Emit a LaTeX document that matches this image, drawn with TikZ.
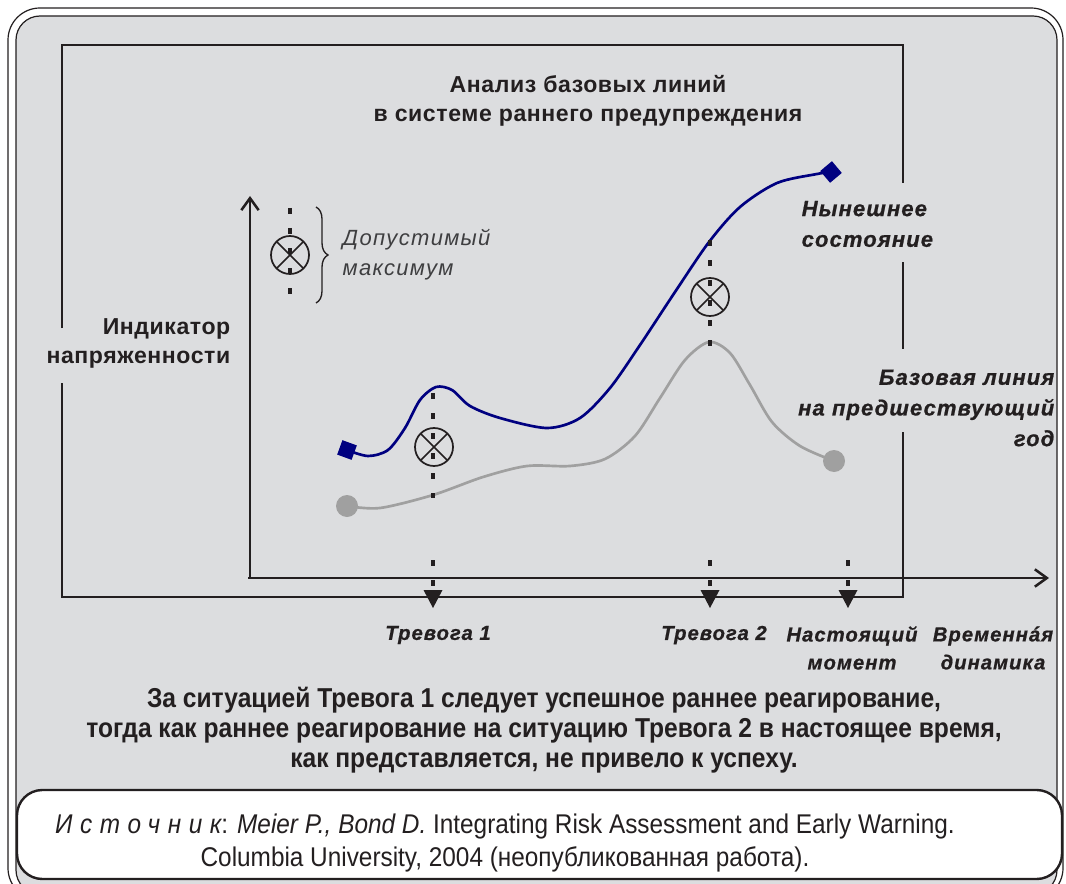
\documentclass[tikz,border=0pt]{standalone}
\usepackage{fontspec}
\setmainfont{Liberation Sans}
\newfontfamily\spacedsans[LetterSpace=6]{Liberation Sans}
\newfontfamily\heavysans[LetterSpace=5,FakeBold=0.7]{Liberation Sans}
\newfontfamily\titlesans[LetterSpace=2.5]{Liberation Sans}
\newfontfamily\narrowsans[FakeStretch=0.9]{Liberation Sans}
\newfontfamily\widesans[FakeStretch=0.9,LetterSpace=28]{Liberation Sans}
\usetikzlibrary{arrows.meta,decorations.pathreplacing}
\definecolor{panelgray}{RGB}{220,221,223}
\definecolor{inkblack}{RGB}{35,31,32}
\definecolor{curvenavy}{RGB}{0,0,128}
\definecolor{curvegray}{RGB}{160,160,160}
\definecolor{notegray}{RGB}{62,62,64}

\begin{document}
\begin{tikzpicture}[x=0.75pt, y=-0.75pt,
    frameline/.style={line width=2.2pt, color=inkblack},
    axisline/.style={line width=1.9pt, color=inkblack, -{Straight Barb[length=9pt, width=13pt]}},
    dotline/.style={line width=2.3pt, color=inkblack, dash pattern=on 4.2pt off 10.8pt},
    crossmark/.style={circle, draw=inkblack, line width=1.3pt, minimum size=28.5pt, inner sep=0pt, outer sep=0pt},
    bluemark/.style={rectangle, fill=curvenavy, minimum size=11.5pt, inner sep=0pt},
    graymark/.style={circle, fill=curvegray, minimum size=16.5pt, inner sep=0pt},
    headtext/.style={font=\fontsize{17.3}{21.75}\selectfont\titlesans\bfseries, text=inkblack, align=center},
    curvelabel/.style={font=\fontsize{16.5}{23}\selectfont\heavysans\bfseries\itshape, text=inkblack},
    axislabel/.style={font=\fontsize{15.2}{21}\selectfont\heavysans\bfseries\itshape, text=inkblack, align=center},
    notetext/.style={font=\fontsize{16.5}{22.5}\selectfont\spacedsans\itshape, text=notegray, align=left},
    summarytext/.style={font=\fontsize{20.5}{22.5}\selectfont\narrowsans\bfseries, text=inkblack, align=center},
    sourcetext/.style={font=\fontsize{20.3}{24.75}\selectfont\narrowsans, text=inkblack, align=center}]

    % Page size and outer panel
    \path[use as bounding box, clip] (0,0) rectangle (1066,884);
    \draw[line width=0.9pt, color=inkblack, rounded corners=24pt] (8,8) rectangle (1063,900);
    \draw[line width=0.9pt, color=inkblack, fill=panelgray, rounded corners=18pt] (16,16) rectangle (1057,894);

    % Chart frame, broken where the labels sit
    \draw[frameline] (62,328) -- (62,45) -- (903,45) -- (903,183);
    \draw[frameline] (903,262) -- (903,349);
    \draw[frameline] (903,432) -- (903,597) -- (62,597) -- (62,383);

    % Title
    \node[headtext] (title) at (588,101) {Анализ базовых линий\\в системе раннего предупреждения};

    % Axes
    \coordinate (origin) at (250,578);
    \draw[axisline] (origin) -- (250,196);
    \draw[axisline] (248,578) -- (1049,578);
    \node[headtext, anchor=east, align=right] (indicator) at (235,343) {Индикатор\\напряженности};

    % Legend
    \node[crossmark] (legmark) at (290,255) {};
    \draw[decorate, decoration={brace, amplitude=9pt}, line width=1pt, color=inkblack] (316,207) -- (316,303);
    \node[notetext, anchor=west] (allowed) at (338,255) {Допустимый\\максимум};

    % Baseline of the previous year
    \draw[curvegray, line width=2pt, smooth] plot coordinates {(347,506) (380,508) (433,495) (483,477) (527,466) (570,466) (605,459) (635,436) (660,398) (685,360) (709,342) (730,353) (750,385) (772,422) (800,446) (834,461)};
    \node[graymark] (grayStart) at (347,506) {};
    \node[graymark] (grayEnd) at (834,461) {};

    % Current state
    \draw[curvenavy, line width=2pt, smooth] plot coordinates {(347,450) (368,456) (388,450) (405,428) (420,400) (436,387) (452,390) (470,406) (500,418) (547,428) (580,418) (610,388) (640,345) (675,292) (709,242) (740,207) (777,183) (817,174) (831,172)};
    \node[bluemark, rotate=-20] (blueStart) at (347,450) {};
    \node[bluemark, rotate=40] (blueEnd) at (831,172) {};

    % Alarm marks
    \node[crossmark] (markA) at (434,447) {};
    \node[crossmark] (markB) at (710,297) {};
    \foreach \m in {legmark, markA, markB}
        \draw[line width=1.3pt, color=inkblack] (\m.north east) -- (\m.south west) (\m.north west) -- (\m.south east);

    % Dotted guides
    \draw[dotline] (290,208) -- (290,306);
    \draw[dotline] (433,393) -- (433,498);
    \draw[dotline] (710,240) -- (710,346);
    \foreach \x/\nm in {433/alarmA, 710/alarmB, 848/nowpt} {
        \coordinate (\nm) at (\x,599);
        \draw[dotline] (\x,560) -- (\x,592);
        \fill[inkblack] (\nm) ++(-9.5,-9) -- ++(19,0) -- ++(-9.5,18) -- cycle;
    }

    % Curve labels
    \node[curvelabel, anchor=west, align=left] (nowstate) at (797,224) {Нынешнее\\состояние};
    \node[curvelabel, anchor=east, align=right] (baseline) at (1059,408) {Базовая линия\\на предшествующий\\год};

    % Time axis labels
    \node[axislabel] (alarmAtext) at (438,635) {Тревога 1};
    \node[axislabel] (alarmBtext) at (714,635) {Тревога 2};
    \node[axislabel] (nowtext) at (852,648) {Настоящий\\момент};
    \node[axislabel] (timetext) at (993,648) {Временнáя\\динамика};

    % Summary
    \node[summarytext] (summary) at (544,730) {За ситуацией Тревога 1 следует успешное раннее реагирование,\\тогда как раннее реагирование на ситуацию Тревога 2 в настоящее время,\\как представляется, не привело к успеху.};

    % Source
    \draw[line width=1.8pt, color=inkblack, fill=white, rounded corners=19pt] (17,790) rectangle (1062,879);
    \node[sourcetext] (source) at (505,843) {{\widesans\itshape Источник}: {\itshape Meier P., Bond D.} Integrating Risk Assessment and Early Warning.\\Columbia University, 2004 (неопубликованная работа).};
\end{tikzpicture}
\end{document}
